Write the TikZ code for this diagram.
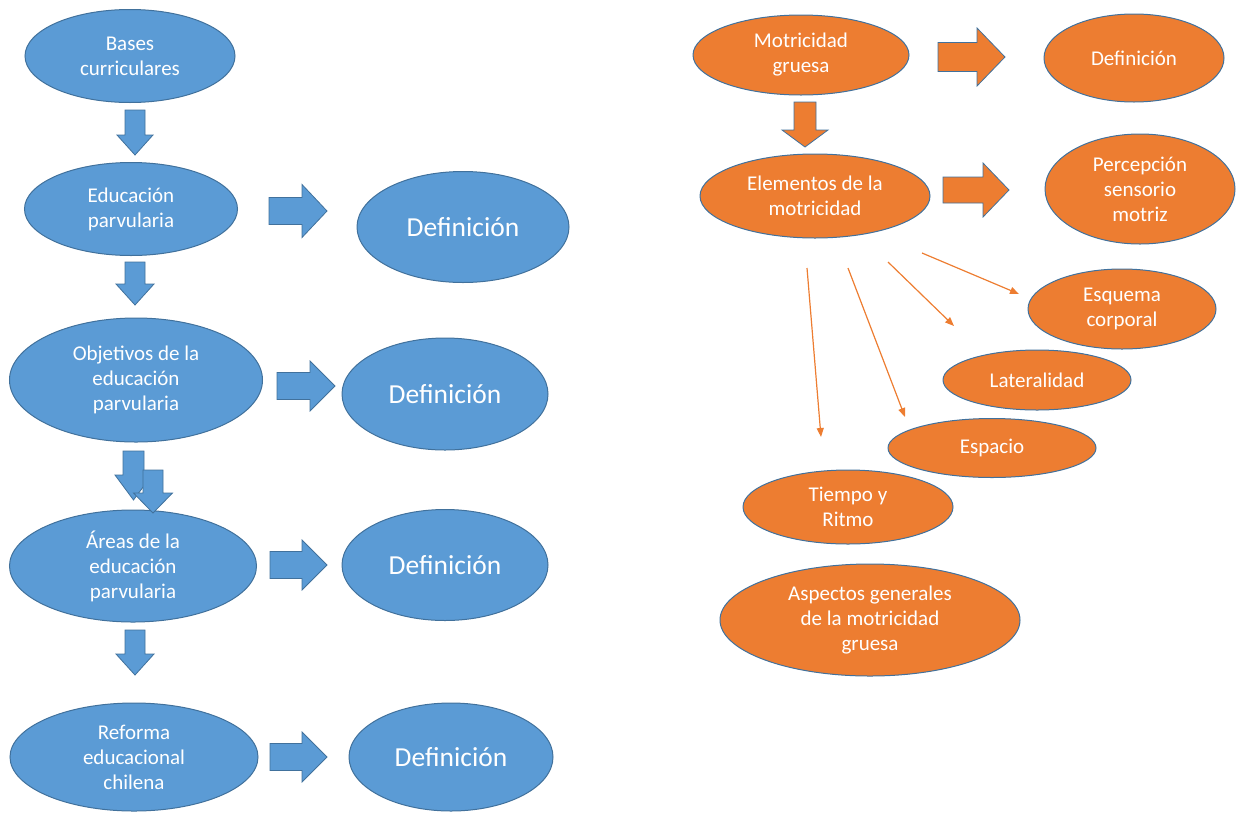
\documentclass[tikz,border=0pt]{standalone}
\usepackage{fontspec}
\setmainfont{Carlito}
\usetikzlibrary{shapes.geometric,arrows.meta}
\definecolor{bfill}{HTML}{5B9BD5}
\definecolor{ofill}{HTML}{ED7D31}
\definecolor{edge}{HTML}{41719C}
\newcommand\darrow[7]{% style, cx, top, tip, shaft half, head half, head length
  \draw[#1] ({#2-#5},#3) -- ({#2+#5},#3) -- ({#2+#5},{#4-#7}) -- ({#2+#6},{#4-#7}) -- (#2,#4) -- ({#2-#6},{#4-#7}) -- ({#2-#5},{#4-#7}) -- cycle;}
\newcommand\rarrow[7]{% style, cy, left, tip, shaft half, head half, head length
  \draw[#1] (#3,{#2-#5}) -- ({#4-#7},{#2-#5}) -- ({#4-#7},{#2-#6}) -- (#4,#2) -- ({#4-#7},{#2+#6}) -- ({#4-#7},{#2+#5}) -- (#3,{#2+#5}) -- cycle;}
\begin{document}
\begin{tikzpicture}[x=1pt,y=-1pt,
  bell/.style={ellipse, draw=edge, line width=1pt, fill=bfill, text=white, align=center, inner sep=0pt,
    font=\fontsize{21}{25}\selectfont},
  oell/.style={bell, fill=ofill},
  bigtxt/.style={font=\fontsize{27.5}{32}\selectfont},
  barr/.style={draw=edge, line width=0.8pt, fill=bfill},
  oarr/.style={draw=edge, line width=0.8pt, fill=ofill},
  thin/.style={draw=ofill, line width=1.2pt, -{Triangle[length=9pt,width=7pt]}}]
\useasboundingbox (0,0) rectangle (1236,812);

% left column
\node[bell, minimum width=210pt, minimum height=93pt] (bases) at (130,56) {Bases\\curriculares};
\node[bell, minimum width=213pt, minimum height=93pt] (edu) at (131,209) {Educación\\parvularia};
\node[bell, bigtxt, minimum width=212pt, minimum height=111pt] (def1) at (463,227) {Definición};
\node[bell, minimum width=253pt, minimum height=124pt] (obj) at (136,380) {Objetivos de la\\educación\\parvularia};
\node[bell, bigtxt, minimum width=206pt, minimum height=112pt] (def2) at (445,394) {Definición};
\node[bell, minimum width=247pt, minimum height=112pt] (areas) at (133,566) {Áreas de la\\educación\\parvularia};
\node[bell, bigtxt, minimum width=206pt, minimum height=111pt] (def3) at (445,565) {Definición};
\node[bell, minimum width=248pt, minimum height=108pt] (ref) at (134,757) {Reforma\\educacional\\chilena};
\node[bell, bigtxt, minimum width=204pt, minimum height=108pt] (def4) at (451,757) {Definición};

\darrow{barr}{135}{110}{155}{10}{18}{20}
\darrow{barr}{135}{262}{305}{10}{19}{21}
\darrow{barr}{133.5}{451}{500}{10.5}{18.5}{25}
\darrow{barr}{153}{470}{513}{10}{19.5}{20}
\darrow{barr}{135}{630}{675}{10}{19}{21}

\rarrow{barr}{211}{269}{327}{13.5}{26.5}{25}
\rarrow{barr}{386}{277}{335}{13.5}{25}{25}
\rarrow{barr}{565}{270}{327}{13.5}{25}{25}
\rarrow{barr}{757}{270}{327}{13.5}{25}{25}

% right side
\node[oell, minimum width=216pt, minimum height=80pt] (mot) at (801,55) {Motricidad\\gruesa};
\node[oell, minimum width=180pt, minimum height=88pt] (odef) at (1134,58) {Definición};
\node[oell, minimum width=230pt, minimum height=84pt] (elem) at (815,196) {Elementos de la\\motricidad};
\node[oell, minimum width=190pt, minimum height=110pt] (perc) at (1140,189) {Percepción\\sensorio\\motriz};
\node[oell, minimum width=188pt, minimum height=80pt] (esq) at (1122,309) {Esquema\\corporal};
\node[oell, minimum width=188pt, minimum height=60pt] (lat) at (1037,380) {Lateralidad};
\node[oell, minimum width=208pt, minimum height=59pt] (esp) at (992,448) {Espacio};
\node[oell, minimum width=210pt, minimum height=74pt] (tiempo) at (848,507) {Tiempo y\\Ritmo};
\node[oell, minimum width=300pt, minimum height=112pt] (asp) at (870,620) {Aspectos generales\\de la motricidad\\gruesa};

\darrow{oarr}{805}{102}{147}{11}{23}{17}
\rarrow{oarr}{57}{938}{1005}{14.5}{29}{28}
\rarrow{oarr}{190}{943}{1009}{13}{27}{26}

\coordinate (s1) at (922,253); \coordinate (e1) at (1019,294);
\coordinate (s2) at (888,262); \coordinate (e2) at (954,326);
\coordinate (s3) at (848,268); \coordinate (e3) at (905,417);
\coordinate (s4) at (807,268); \coordinate (e4) at (821,437);
\draw[thin] (s1) -- (e1);
\draw[thin] (s2) -- (e2);
\draw[thin] (s3) -- (e3);
\draw[thin] (s4) -- (e4);
\end{tikzpicture}
\end{document}
